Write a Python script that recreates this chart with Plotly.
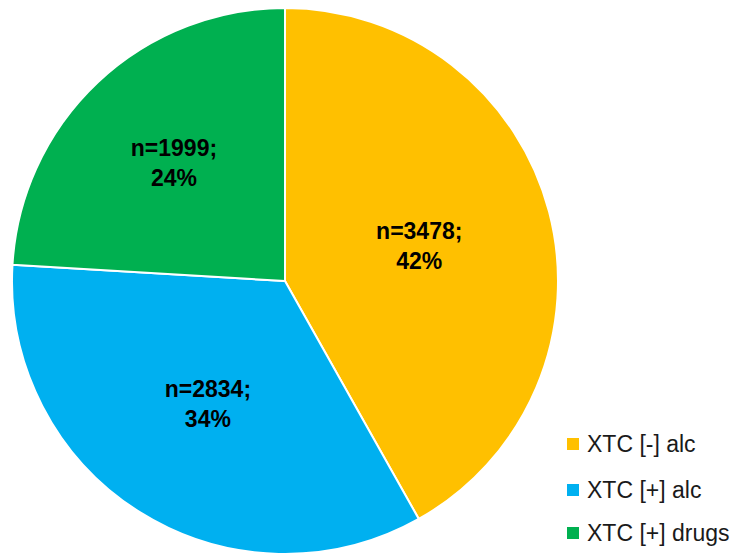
import plotly.graph_objects as go

categories = ["XTC [-] alc", "XTC [+] alc", "XTC [+] drugs"]
counts = [3478, 2834, 1999]
colors = ["#FFC000", "#00B0F0", "#00B050"]

W, H = 747, 554
cx, cy, r = 285, 281, 273

fig = go.Figure(go.Pie(
    labels=categories,
    values=counts,
    sort=False,
    direction="clockwise",
    rotation=0,
    marker=dict(colors=colors, line=dict(color="white", width=2)),
    texttemplate="<b>n=%{value};<br>%{percent:.0%}</b>",
    textposition="inside",
    insidetextorientation="horizontal",
    textfont=dict(family="Liberation Sans", size=23, color="black"),
    showlegend=False,
    hoverinfo="label+value+percent",
    domain=dict(x=[(cx - r) / W, (cx + r) / W], y=[(H - cy - r) / H, (H - cy + r) / H]),
))

# manual legend built from the category list
shapes, annotations = [], []
row_y = [444, 490, 533]
for cat, col, yy in zip(categories, colors, row_y):
    shapes.append(dict(type="rect", xref="paper", yref="paper",
                       x0=567 / W, x1=579 / W, y0=1 - (yy + 6) / H, y1=1 - (yy - 6) / H,
                       fillcolor=col, line=dict(width=0)))
    annotations.append(dict(xref="paper", yref="paper", x=585 / W, y=1 - yy / H,
                            text=cat, showarrow=False, xanchor="left", yanchor="middle",
                            font=dict(family="Liberation Sans", size=23, color="#1a1a1a")))

fig.update_layout(
    width=W, height=H,
    margin=dict(l=0, r=0, t=0, b=0),
    paper_bgcolor="white", plot_bgcolor="white",
    shapes=shapes, annotations=annotations,
)

fig.write_html("out.html", config={"displayModeBar": False},
               post_script="document.body.style.margin='0';")
